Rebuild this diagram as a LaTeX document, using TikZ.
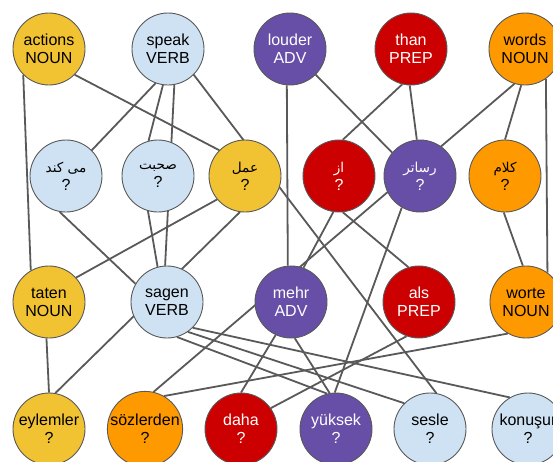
\documentclass[tikz,border=0pt]{standalone}
\usepackage{fontspec}
\setmainfont{Liberation Sans}
\newfontfamily\arabicfont[Script=Arabic,Scale=0.85]{DejaVu Sans}
\TeXXeTstate=1
\usetikzlibrary{backgrounds}

\definecolor{wyellow}{HTML}{F1C232}
\definecolor{wblue}{HTML}{CFE2F3}
\definecolor{wpurple}{HTML}{674EA7}
\definecolor{wred}{HTML}{CC0000}
\definecolor{worange}{HTML}{FF9900}
\definecolor{linegray}{HTML}{595959}

% persian words, right to left
\newcommand{\fa}[1]{{\arabicfont\beginR #1\endR}}

\begin{document}
\begin{tikzpicture}[x=1pt, y=-1pt,
    word/.style={circle, draw=linegray, line width=0.9pt, fill=#1, minimum size=72pt, inner sep=0pt, align=center, font=\fontsize{16}{18}\selectfont},
    light/.style={text=white},
    link/.style={draw=linegray, line width=1.8pt}
]
\clip (0,0) rectangle (553,461);

% English
\node[word=wyellow] (actions) at (49,49) {actions\\NOUN};
\node[word=wblue] (speak) at (168,49) {speak\\VERB};
\node[word=wpurple, light] (louder) at (290,49) {louder\\ADV};
\node[word=wred, light] (than) at (411,49) {than\\PREP};
\node[word=worange] (words) at (525,49) {words\\NOUN};

% Persian
\node[word=wblue] (mikonad) at (66,176) {\fa{می کند}\\?};
\node[word=wblue] (sohbat) at (158,176) {\fa{صحبت}\\?};
\node[word=wyellow] (amal) at (245,176) {\fa{عمل}\\?};
\node[word=wred, light] (az) at (339,176) {\fa{از}\\?};
\node[word=wpurple, light] (rasatar) at (420,176) {\fa{رساتر}\\?};
\node[word=worange] (kalam) at (505,176) {\fa{کلام}\\?};

% German
\node[word=wyellow] (taten) at (49,302) {taten\\NOUN};
\node[word=wblue] (sagen) at (167,302) {sagen\\VERB};
\node[word=wpurple, light] (mehr) at (291,302) {mehr\\ADV};
\node[word=wred, light] (als) at (419,302) {als\\PREP};
\node[word=worange] (worte) at (526,302) {worte\\NOUN};

% Turkish
\node[word=wyellow] (eylemler) at (49,429) {eylemler\\?};
\node[word=worange] (sozlerden) at (145,429) {sözlerden\\?};
\node[word=wred, light] (daha) at (241,429) {daha\\?};
\node[word=wpurple, light] (yuksek) at (336,429) {yüksek\\?};
\node[word=wblue] (sesle) at (430,429) {sesle\\?};
\node[word=wblue] (konusur) at (528,429) {konuşur\\?};

% alignment links, behind the circles
\begin{scope}[on background layer]
\draw[link] (actions.225) -- (taten.120);
\draw[link] (actions.315) -- (amal.135);
\draw[link] (speak.250) -- (mikonad.45);
\draw[link] (speak.262) -- (sohbat.105);
\draw[link] (speak.280) -- (sagen.93);
\draw[link] (speak.315) -- (sesle.80);
\draw[link] (louder.265) -- (mehr.95);
\draw[link] (louder.315) -- (rasatar.140);
\draw[link] (than.256) -- (az.84);
\draw[link] (than.268) -- (rasatar.95);
\draw[link] (words.253) -- (sozlerden.77);
\draw[link] (words.264) -- (kalam.90);
\draw[link] (words.305) -- (worte.54);

\draw[link] (mikonad.260) -- (sagen.150);
\draw[link] (sohbat.254) -- (sagen.105);
\draw[link] (amal.220) -- (taten.42);
\draw[link] (amal.262) -- (eylemler.80);
\draw[link] (az.261) -- (mehr.70);
\draw[link] (az.276) -- (als.107);
\draw[link] (rasatar.240) -- (yuksek.92);
\draw[link] (kalam.268) -- (worte.95);

\draw[link] (taten.266) -- (eylemler.90);
\draw[link] (sagen.286) -- (yuksek.104);
\draw[link] (sagen.305) -- (sesle.135);
\draw[link] (sagen.315) -- (konusur.120);
\draw[link] (mehr.245) -- (daha.90);
\draw[link] (mehr.276) -- (yuksek.100);
\draw[link] (als.250) -- (daha.35);
\draw[link] (worte.240) -- (sozlerden.60);
\end{scope}

\end{tikzpicture}
\end{document}
